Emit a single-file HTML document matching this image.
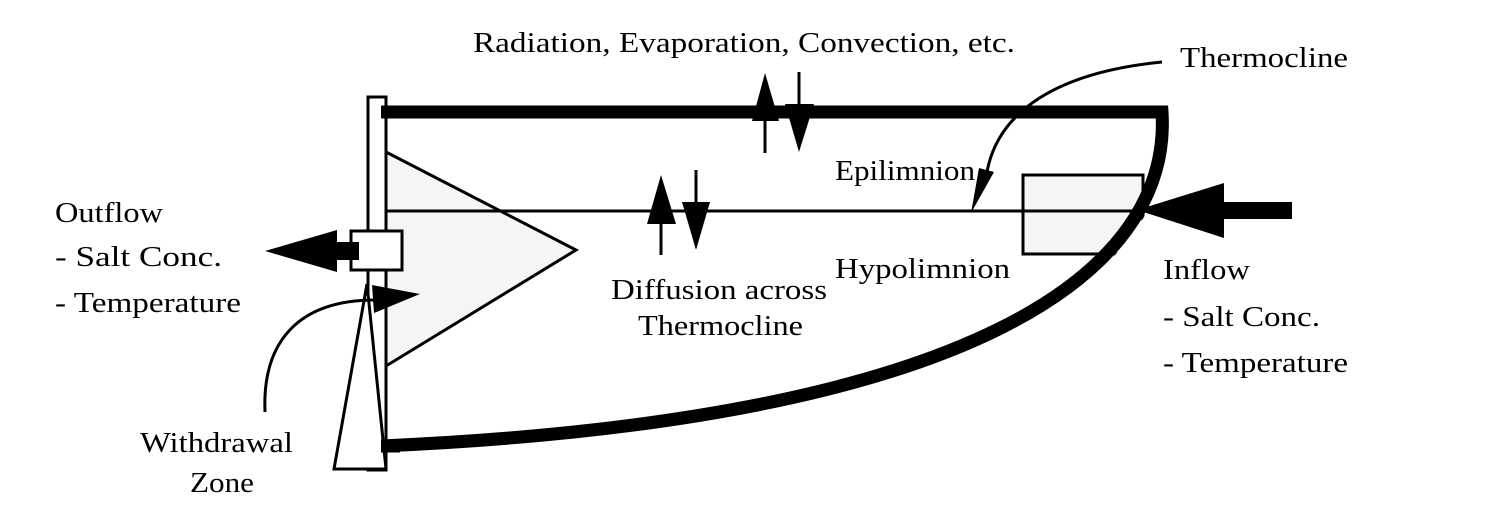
<!DOCTYPE html>
<html><head><meta charset="utf-8"><style>
html,body{margin:0;padding:0;background:#fff;}
svg{display:block;}
text{font-family:"Liberation Serif",serif;font-size:29px;fill:#000;}
</style></head><body>
<svg width="1487" height="510" viewBox="0 0 1487 510" xmlns="http://www.w3.org/2000/svg">
<rect x="1023" y="175" width="120" height="79" fill="#f5f5f5" stroke="#000" stroke-width="3"/>
<polygon points="386,152 576,250 386,366" fill="#f5f5f5" stroke="#000" stroke-width="3"/>
<line x1="386" y1="211" x2="1140" y2="211" stroke="#000" stroke-width="3"/>
<path d="M1162,112 C1172,270 980,420 380,446 L1300,446 L1300,112 Z" fill="#fff" transform="translate(7,3)"/>
<path d="M380,112 L1162,112 C1172,270 980,420 380,446" fill="none" stroke="#000" stroke-width="13"/>
<rect x="368" y="97" width="18" height="373" fill="#fff" stroke="#000" stroke-width="3"/>
<polygon points="367,284 334,469 386,469" fill="#fff" stroke="#000" stroke-width="3"/>
<line x1="386" y1="97" x2="386" y2="470" stroke="#000" stroke-width="3"/>
<line x1="381" y1="112" x2="400" y2="112" stroke="#000" stroke-width="13"/>
<line x1="381" y1="446" x2="400" y2="446" stroke="#000" stroke-width="13"/>
<rect x="351" y="231" width="51" height="39" fill="#fff" stroke="#000" stroke-width="3"/>
<rect x="335" y="242" width="24" height="18" fill="#000"/>
<polygon points="265,251 337,230 337,272" fill="#000"/>
<path d="M265,412 C262,340 300,300 375,300" fill="none" stroke="#000" stroke-width="3"/>
<polygon points="420,294 372,285 374,313" fill="#000"/>
<line x1="765" y1="100" x2="765" y2="153" stroke="#000" stroke-width="3"/>
<polygon points="765,73 752,121 779,121" fill="#000"/>
<line x1="799" y1="72" x2="799" y2="110" stroke="#000" stroke-width="3"/>
<polygon points="799,152 785,104 814,104" fill="#000"/>
<line x1="661" y1="210" x2="661" y2="255" stroke="#000" stroke-width="3"/>
<polygon points="661,175 647,224 676,224" fill="#000"/>
<line x1="696" y1="170" x2="696" y2="210" stroke="#000" stroke-width="3"/>
<polygon points="696,250 682,202 710,202" fill="#000"/>
<path d="M1162,62 C1060,72 995,110 986,178" fill="none" stroke="#000" stroke-width="3"/>
<polygon points="971,213 979,168 994,172" fill="#000"/>
<rect x="1215" y="202" width="77" height="17" fill="#000"/>
<polygon points="1137,210 1224,183 1224,238" fill="#000"/>
<text x="473" y="52" textLength="542" lengthAdjust="spacingAndGlyphs">Radiation, Evaporation, Convection, etc.</text>
<text x="1180" y="67" textLength="168" lengthAdjust="spacingAndGlyphs">Thermocline</text>
<text x="835" y="180" textLength="140" lengthAdjust="spacingAndGlyphs">Epilimnion</text>
<text x="835" y="278" textLength="175" lengthAdjust="spacingAndGlyphs">Hypolimnion</text>
<text x="611" y="299" textLength="216" lengthAdjust="spacingAndGlyphs">Diffusion across</text>
<text x="638" y="335" textLength="165" lengthAdjust="spacingAndGlyphs">Thermocline</text>
<text x="55" y="222" textLength="108" lengthAdjust="spacingAndGlyphs">Outflow</text>
<text x="55" y="266" textLength="167" lengthAdjust="spacingAndGlyphs">- Salt Conc.</text>
<text x="55" y="312" textLength="186" lengthAdjust="spacingAndGlyphs">- Temperature</text>
<text x="1163" y="279" textLength="87" lengthAdjust="spacingAndGlyphs">Inflow</text>
<text x="1163" y="326" textLength="157" lengthAdjust="spacingAndGlyphs">- Salt Conc.</text>
<text x="1163" y="372" textLength="185" lengthAdjust="spacingAndGlyphs">- Temperature</text>
<text x="140" y="452" textLength="153" lengthAdjust="spacingAndGlyphs">Withdrawal</text>
<text x="190" y="492" textLength="64" lengthAdjust="spacingAndGlyphs">Zone</text>
</svg>
</body></html>
